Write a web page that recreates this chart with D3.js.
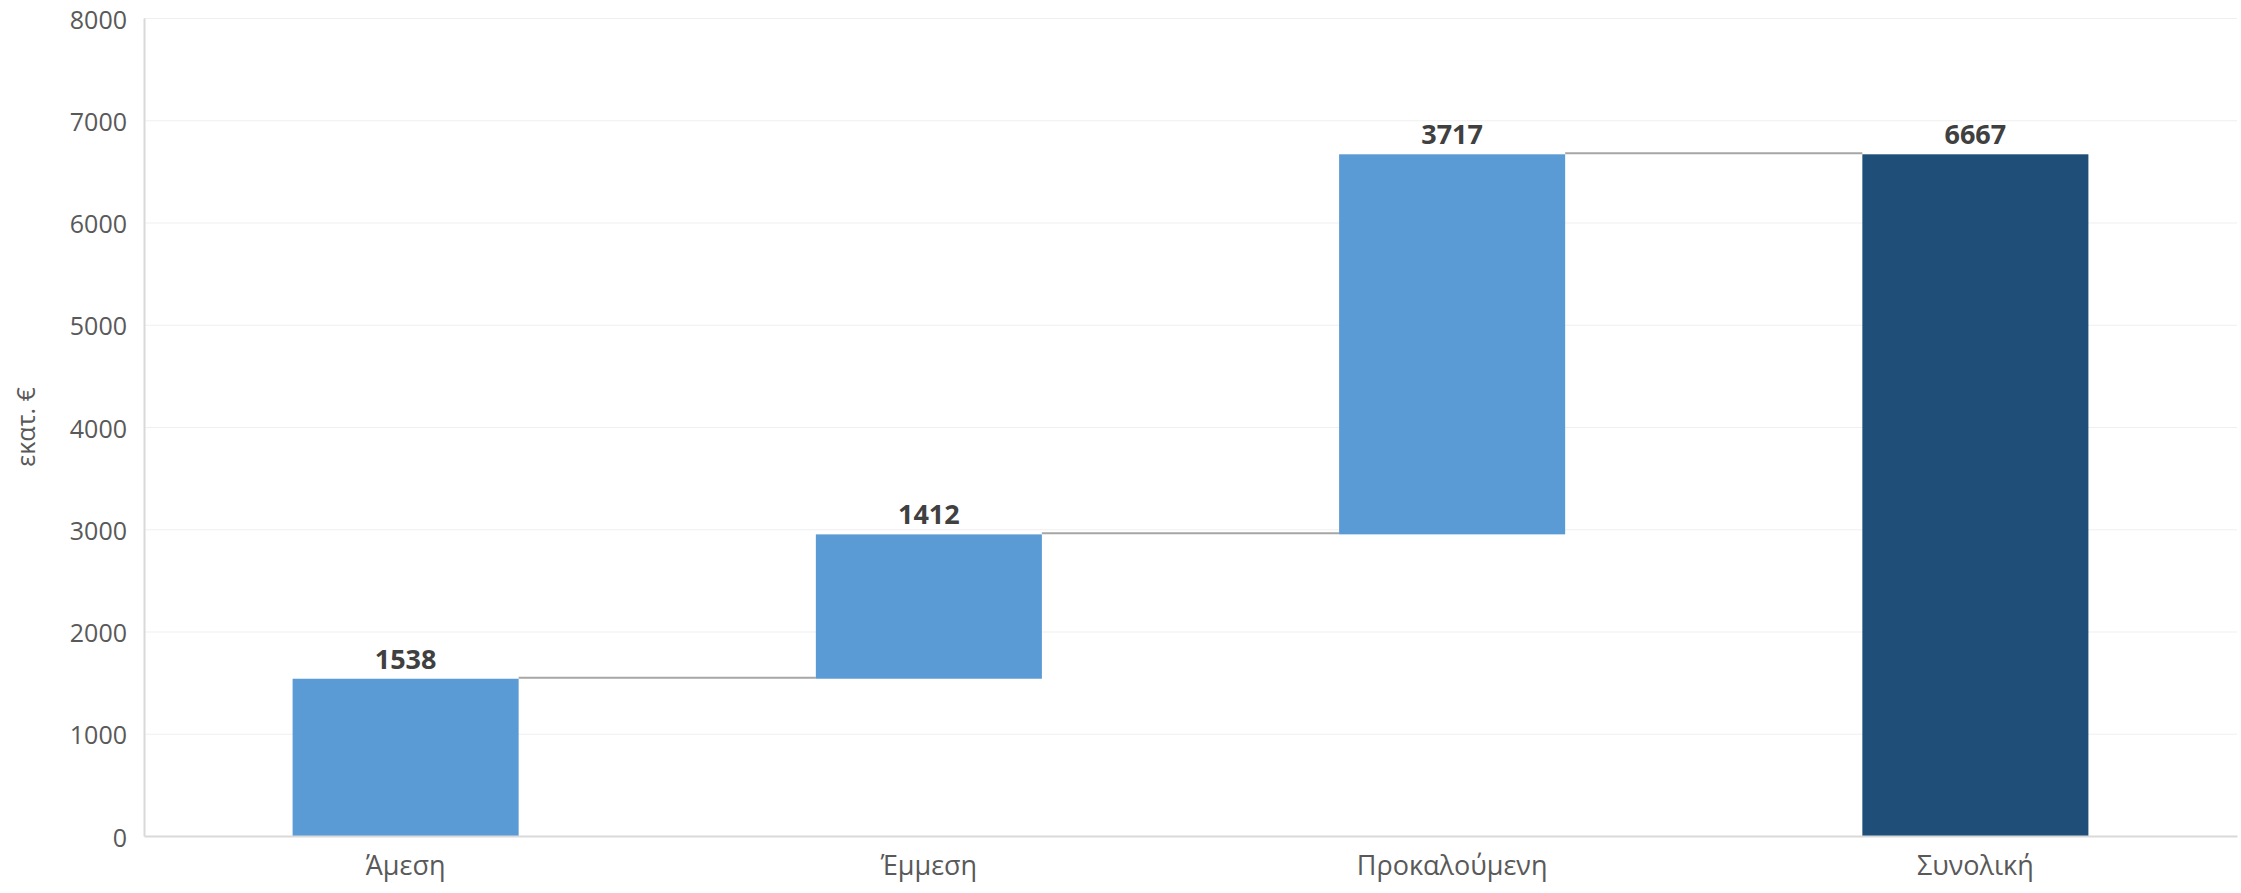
<!DOCTYPE html>
<html>
<head>
<meta charset="utf-8">
<script src="https://cdn.jsdelivr.net/npm/d3@7"></script>
<style>
  html, body { margin: 0; padding: 0; background: #ffffff; }
  svg { display: block; }
</style>
</head>
<body>
<svg id="chart" width="2241" height="893"></svg>
<script>
const categories = ["Άμεση", "Έμμεση", "Προκαλούμενη", "Συνολική"];
const values = [1538, 1412, 3717, 6667];
const isTotal = [false, false, false, true];
const yTicks = [0, 1000, 2000, 3000, 4000, 5000, 6000, 7000, 8000];
const yTitle = "εκατ. €";

const W = 2241, H = 893;
const margin = { left: 144, right: 4, top: 18, bottom: 57 };
const svg = d3.select("#chart");

const x = d3.scaleBand()
  .domain(categories)
  .range([margin.left, W - margin.right])
  .paddingInner(0.568)
  .paddingOuter(0.284);

const y = d3.scaleLinear()
  .domain([0, 8000])
  .range([H - margin.bottom, margin.top]);

// waterfall steps
let cum = 0;
const steps = categories.map((c, i) => {
  let start, end;
  if (isTotal[i]) { start = 0; end = values[i]; cum = values[i]; }
  else { start = cum; end = cum + values[i]; cum = end; }
  return { cat: c, value: values[i], start, end, total: isTotal[i] };
});

// gridlines
svg.append("g")
  .selectAll("line")
  .data(yTicks.filter(t => t > 0))
  .join("line")
  .attr("x1", margin.left)
  .attr("x2", W - margin.right)
  .attr("y1", d => y(d) + 0.5)
  .attr("y2", d => y(d) + 0.5)
  .attr("stroke", "#efefef")
  .attr("stroke-width", 1);

// Y axis
const yAxis = svg.append("g")
  .attr("transform", `translate(${margin.left},0)`)
  .call(d3.axisLeft(y).tickValues(yTicks).tickSize(0).tickPadding(17).tickFormat(d3.format("d")));
yAxis.select(".domain").attr("stroke", "#d9d9d9").attr("stroke-width", 2);
yAxis.selectAll("text")
  .attr("fill", "#595959")
  .attr("dy", "0.4em")
  .style("font-family", "'Open Sans', sans-serif")
  .style("font-size", "25px");

// Y axis title
svg.append("text")
  .attr("transform", `translate(28, ${(y(0) + y(8000)) / 2}) rotate(-90)`)
  .attr("text-anchor", "middle")
  .attr("dominant-baseline", "middle")
  .attr("fill", "#595959")
  .style("font-family", "'Open Sans', sans-serif")
  .style("font-size", "25px")
  .text(yTitle);

// connectors
svg.append("g")
  .selectAll("line")
  .data(steps.slice(0, -1))
  .join("line")
  .attr("x1", (d) => x(d.cat) + x.bandwidth())
  .attr("x2", (d, i) => x(steps[i + 1].cat))
  .attr("y1", d => y(d.end) - 1)
  .attr("y2", d => y(d.end) - 1)
  .attr("stroke", "#a6a6a6")
  .attr("stroke-width", 2);

// bars
svg.append("g")
  .selectAll("rect")
  .data(steps)
  .join("rect")
  .attr("x", d => x(d.cat))
  .attr("width", x.bandwidth())
  .attr("y", d => y(Math.max(d.start, d.end)))
  .attr("height", d => Math.abs(y(d.start) - y(d.end)))
  .attr("fill", d => d.total ? "#1f4e79" : "#5b9bd5");

// X axis
const xAxis = svg.append("g")
  .attr("transform", `translate(0,${y(0)})`)
  .call(d3.axisBottom(x).tickSize(0).tickPadding(20));
xAxis.select(".domain").attr("stroke", "#d9d9d9").attr("stroke-width", 2);
xAxis.selectAll("text")
  .attr("fill", "#595959")
  .style("font-family", "'Open Sans', sans-serif")
  .style("font-size", "27px");

// data labels
svg.append("g")
  .selectAll("text")
  .data(steps)
  .join("text")
  .attr("x", d => x(d.cat) + x.bandwidth() / 2)
  .attr("y", d => y(Math.max(d.start, d.end)) - 10)
  .attr("text-anchor", "middle")
  .attr("fill", "#404040")
  .style("font-family", "'Open Sans', sans-serif")
  .style("font-weight", "bold")
  .style("font-size", "27px")
  .text(d => d.value);
</script>
</body>
</html>
